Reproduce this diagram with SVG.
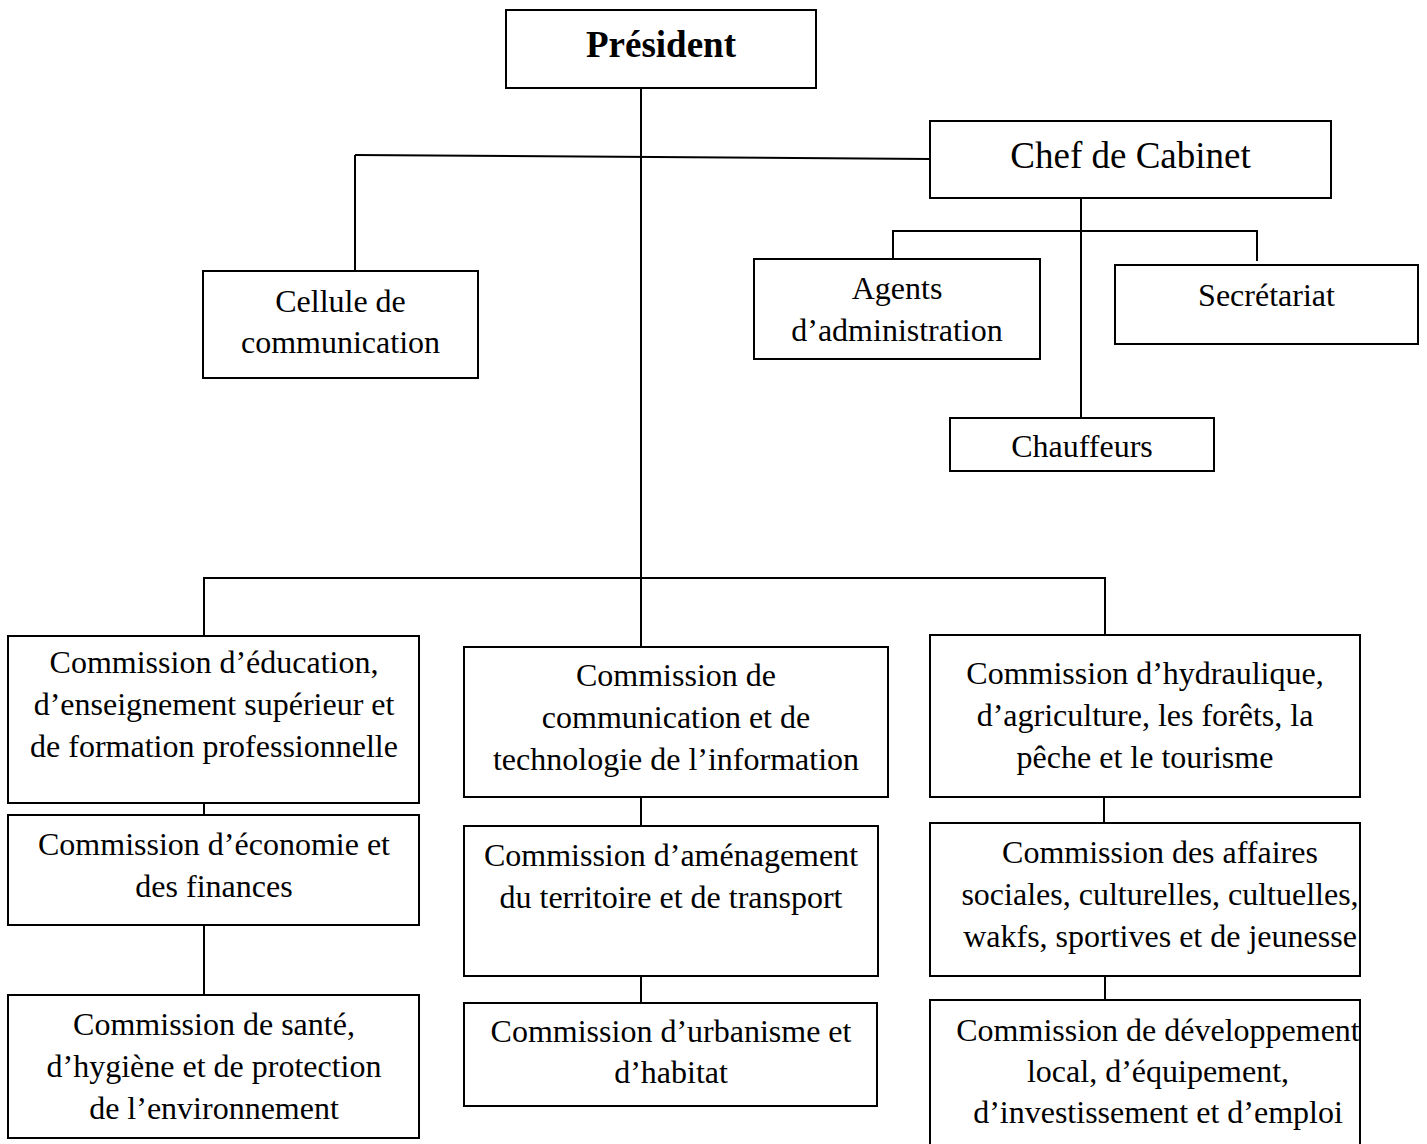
<svg xmlns="http://www.w3.org/2000/svg" width="1427" height="1144" viewBox="0 0 1427 1144">
<style>
.box{fill:#fff;stroke:#000;stroke-width:2}
.ln{fill:none;stroke:#000;stroke-width:2}
text{font-family:"Liberation Serif","Times New Roman",serif;font-size:32px;fill:#000;text-anchor:middle}
.big{font-size:37px}
.bold{font-weight:bold;font-size:37px}
</style>
<rect width="1427" height="1144" fill="#fff"/>
<g id="connectors">
<line class="ln" x1="641" y1="88" x2="641" y2="647"/>
<line class="ln" x1="355" y1="155" x2="930" y2="159"/>
<line class="ln" x1="355" y1="155" x2="355" y2="271"/>
<line class="ln" x1="1081" y1="198" x2="1081" y2="418"/>
<polyline class="ln" points="893,259 893,231 1257,231 1257,261"/>
<polyline class="ln" points="204,636 204,578 1105,578 1105,635"/>
<line class="ln" x1="204" y1="803" x2="204" y2="815"/>
<line class="ln" x1="204" y1="925" x2="204" y2="995"/>
<line class="ln" x1="641" y1="797" x2="641" y2="826"/>
<line class="ln" x1="641" y1="976" x2="641" y2="1003"/>
<line class="ln" x1="1104" y1="797" x2="1104" y2="823"/>
<line class="ln" x1="1105" y1="976" x2="1105" y2="1000"/>
</g>
<g id="president">
<rect class="box" x="506" y="10" width="310" height="78"/>
<text class="bold" x="661" y="57">Président</text>
</g>
<g id="chef-cabinet">
<rect class="box" x="930" y="121" width="401" height="77"/>
<text class="big" x="1130.5" y="168">Chef de Cabinet</text>
</g>
<g id="cellule">
<rect class="box" x="203" y="271" width="275" height="107"/>
<text x="340.5" y="312">Cellule de</text>
<text x="340.5" y="353">communication</text>
</g>
<g id="agents">
<rect class="box" x="754" y="259" width="286" height="100"/>
<text x="897" y="299">Agents</text>
<text x="897" y="341">d’administration</text>
</g>
<g id="secretariat">
<rect class="box" x="1115" y="265" width="303" height="79"/>
<text x="1266.5" y="306">Secrétariat</text>
</g>
<g id="chauffeurs">
<rect class="box" x="950" y="418" width="264" height="53"/>
<text x="1082" y="457">Chauffeurs</text>
</g>
<g id="c-education">
<rect class="box" x="8" y="636" width="411" height="167"/>
<text x="214" y="673">Commission d’éducation,</text>
<text x="214" y="715">d’enseignement supérieur et</text>
<text x="214" y="757">de formation professionnelle</text>
</g>
<g id="c-economie">
<rect class="box" x="8" y="815" width="411" height="110"/>
<text x="214" y="855">Commission d’économie et</text>
<text x="214" y="897">des finances</text>
</g>
<g id="c-sante">
<rect class="box" x="8" y="995" width="411" height="143"/>
<text x="214" y="1035">Commission de santé,</text>
<text x="214" y="1077">d’hygiène et de protection</text>
<text x="214" y="1119">de l’environnement</text>
</g>
<g id="c-communication">
<rect class="box" x="464" y="647" width="424" height="150"/>
<text x="676" y="686">Commission de</text>
<text x="676" y="728">communication et de</text>
<text x="676" y="770">technologie de l’information</text>
</g>
<g id="c-amenagement">
<rect class="box" x="464" y="826" width="414" height="150"/>
<text x="671" y="866">Commission d’aménagement</text>
<text x="671" y="908">du territoire et de transport</text>
</g>
<g id="c-urbanisme">
<rect class="box" x="464" y="1003" width="413" height="103"/>
<text x="671" y="1042">Commission d’urbanisme et</text>
<text x="671" y="1083">d’habitat</text>
</g>
<g id="c-hydraulique">
<rect class="box" x="930" y="635" width="430" height="162"/>
<text x="1145" y="684">Commission d’hydraulique,</text>
<text x="1145" y="726">d’agriculture, les forêts, la</text>
<text x="1145" y="768">pêche et le tourisme</text>
</g>
<g id="c-affaires-sociales">
<rect class="box" x="930" y="823" width="430" height="153"/>
<text x="1160" y="863">Commission des affaires</text>
<text x="1160" y="905">sociales, culturelles, cultuelles,</text>
<text x="1160" y="947">wakfs, sportives et de jeunesse</text>
</g>
<g id="c-developpement">
<rect class="box" x="930" y="1000" width="430" height="160"/>
<text x="1158" y="1041">Commission de développement</text>
<text x="1158" y="1082">local, d’équipement,</text>
<text x="1158" y="1123">d’investissement et d’emploi</text>
</g>
</svg>
